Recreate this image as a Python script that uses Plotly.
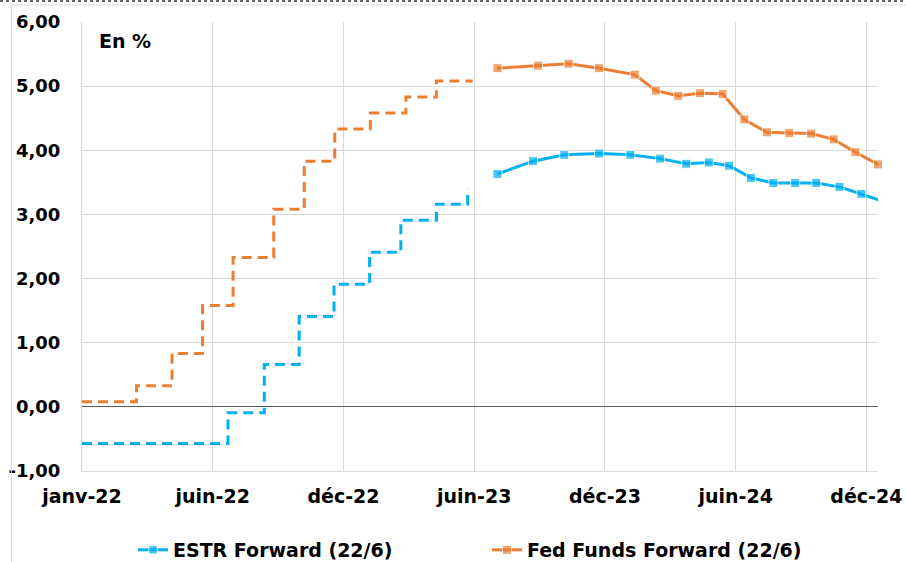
import datetime as dt
import plotly.graph_objects as go

# Realised policy rates (step series)
fed_step_dates = ["2022-01-01", "2022-03-17", "2022-05-05", "2022-06-16", "2022-07-28",
                  "2022-09-22", "2022-11-03", "2022-12-15", "2023-02-02", "2023-03-23",
                  "2023-05-04", "2023-06-23"]
fed_step_values = [0.08, 0.33, 0.83, 1.58, 2.33, 3.08, 3.83, 4.33, 4.58, 4.83, 5.08, 5.08]

estr_step_dates = ["2022-01-01", "2022-07-21", "2022-09-09", "2022-10-27", "2022-12-14",
                   "2023-02-01", "2023-03-16", "2023-05-04", "2023-06-16"]
estr_step_values = [-0.57, -0.09, 0.66, 1.41, 1.91, 2.41, 2.91, 3.16, 3.40]

# Forward curves as of 22 June
fed_fwd_dates = ["2023-07-27", "2023-09-21", "2023-11-02", "2023-12-14", "2024-02-01",
                 "2024-03-01", "2024-04-01", "2024-05-01", "2024-06-01", "2024-07-01",
                 "2024-08-01", "2024-09-01", "2024-10-01", "2024-11-01", "2024-12-01",
                 "2025-01-01"]
fed_fwd_values = [5.28, 5.32, 5.35, 5.28, 5.18, 4.93, 4.85, 4.89, 4.88, 4.48,
                  4.28, 4.27, 4.26, 4.17, 3.97, 3.78]

estr_fwd_dates = ["2023-07-27", "2023-09-14", "2023-10-27", "2023-12-14", "2024-01-26",
                  "2024-03-07", "2024-04-12", "2024-05-13", "2024-06-10", "2024-07-10",
                  "2024-08-10", "2024-09-09", "2024-10-08", "2024-11-09", "2024-12-09",
                  "2025-01-09"]
estr_fwd_values = [3.63, 3.83, 3.93, 3.95, 3.93, 3.87, 3.79, 3.81, 3.76, 3.57,
                   3.49, 3.49, 3.49, 3.43, 3.32, 3.20]

# Axis ticks: every 180 days from the start date
x_start = "2022-01-01"
x_end = "2025-01-01"
tick_labels = ["janv-22", "juin-22", "déc-22", "juin-23", "déc-23", "juin-24", "déc-24"]
y_ticks = [-1, 0, 1, 2, 3, 4, 5, 6]
y_tick_labels = ["-1,00", "0,00", "1,00", "2,00", "3,00", "4,00", "5,00", "6,00"]

BLUE = "#00B0F0"
ORANGE = "#ED7D31"
FONT = "DejaVu Sans"
FS = 19

start = dt.date.fromisoformat(x_start)
tick_vals = [(start + dt.timedelta(days=180 * i)).isoformat() for i in range(len(tick_labels))]
end = dt.date.fromisoformat(x_end)


def marker_sizes(dates, size):
    # points past the axis end only carry the line to the edge
    return [size if dt.date.fromisoformat(d) <= end else 0 for d in dates]


def bold_font(size=FS):
    return dict(family=FONT, size=size, color="black", weight="bold")


fig = go.Figure()

fig.add_trace(go.Scatter(
    x=estr_step_dates, y=estr_step_values, mode="lines", line_shape="hv",
    line=dict(color=BLUE, width=3, dash="10px,6px"), showlegend=False, hoverinfo="skip"))
fig.add_trace(go.Scatter(
    x=fed_step_dates, y=fed_step_values, mode="lines", line_shape="hv",
    line=dict(color=ORANGE, width=3, dash="10px,6px"), showlegend=False, hoverinfo="skip"))

fig.add_trace(go.Scatter(
    x=estr_fwd_dates, y=estr_fwd_values, mode="lines+markers",
    name="ESTR Forward (22/6)",
    line=dict(color=BLUE, width=3),
    marker=dict(symbol="square", size=marker_sizes(estr_fwd_dates, 9), color=BLUE),
    cliponaxis=False))
fig.add_trace(go.Scatter(
    x=fed_fwd_dates, y=fed_fwd_values, mode="lines+markers",
    name="Fed Funds Forward (22/6)",
    line=dict(color=ORANGE, width=3),
    marker=dict(symbol="square", size=marker_sizes(fed_fwd_dates, 9), color=ORANGE),
    cliponaxis=False))

fig.update_layout(
    width=906, height=562,
    margin=dict(l=82, r=28, t=22, b=91, autoexpand=False),
    paper_bgcolor="white", plot_bgcolor="white",
    font=bold_font(),
    xaxis=dict(
        type="date", range=[x_start, x_end], automargin=False,
        tickmode="array", tickvals=tick_vals, ticktext=tick_labels,
        showgrid=True, gridcolor="#d9d9d9", gridwidth=1,
        showline=True, linecolor="#d9d9d9", linewidth=1,
        ticks="", ticklabelstandoff=8,
        tickfont=bold_font(),
    ),
    yaxis=dict(
        range=[-1, 6], automargin=False,
        tickmode="array", tickvals=y_ticks, ticktext=y_tick_labels,
        showgrid=True, gridcolor="#d9d9d9", gridwidth=1,
        showline=True, linecolor="#d9d9d9", linewidth=1,
        zeroline=True, zerolinecolor="#595959", zerolinewidth=1,
        ticks="", ticklabelstandoff=17,
        tickfont=bold_font(18),
    ),
    legend=dict(
        orientation="h", xref="container", yref="container",
        x=0.1468, xanchor="left", y=0.0214, yanchor="middle",
        entrywidth=309, itemwidth=30,
        font=bold_font(),
        bgcolor="rgba(0,0,0,0)",
    ),
    annotations=[dict(
        text="En %", xref="paper", yref="paper", x=0.0188, y=0.958,
        xanchor="left", yanchor="middle", showarrow=False,
        font=bold_font(),
    )],
    shapes=[
        dict(type="line", xref="paper", yref="paper", x0=-0.103, x1=1.035,
             y0=1.0468, y1=1.0468, line=dict(color="#333333", width=1.5, dash="dot")),
        dict(type="line", xref="paper", yref="paper", x0=-0.0886, x1=1.035,
             y0=1.0379, y1=1.0379, line=dict(color="#d9d9d9", width=1)),
        dict(type="line", xref="paper", yref="paper", x0=-0.0886, x1=-0.0886,
             y0=-0.21, y1=1.0379, line=dict(color="#d9d9d9", width=1)),
    ],
)

fig.write_html("out.html")
